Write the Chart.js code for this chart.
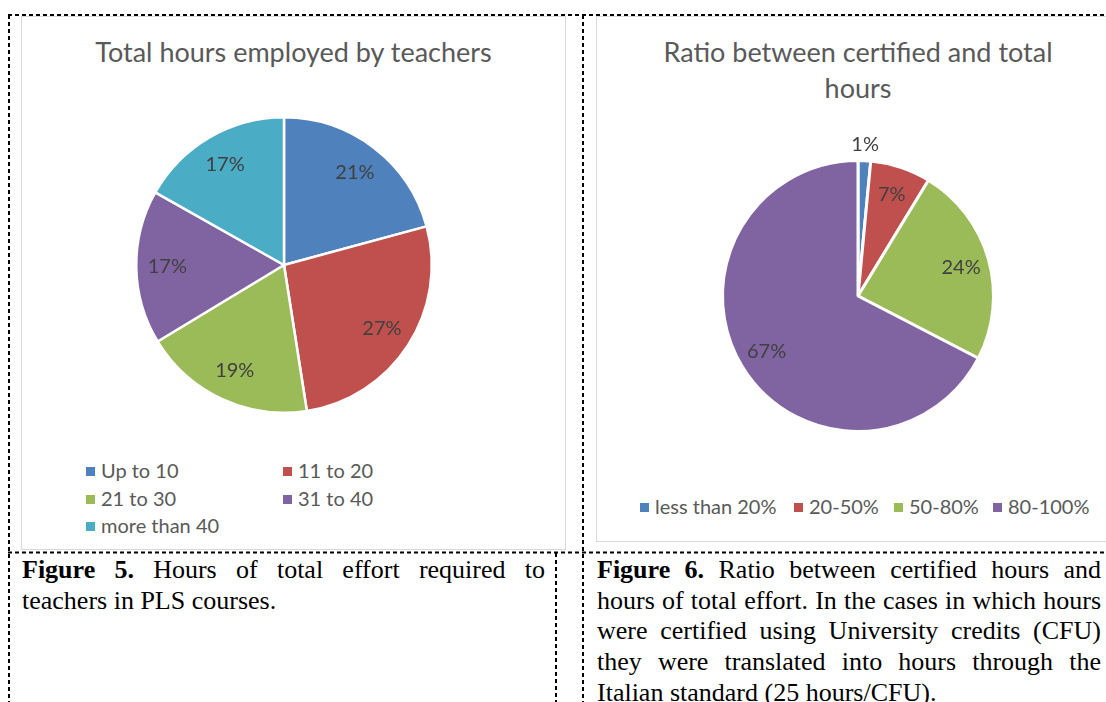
<!DOCTYPE html>
<html>
<head>
<meta charset="utf-8">
<script src="https://cdn.jsdelivr.net/npm/chart.js@4.4.1/dist/chart.umd.min.js"></script>
<style>
  body { margin: 0; width: 1106px; height: 702px; overflow: hidden; background: #fff; position: relative; font-family: Lato, "Open Sans", sans-serif; }
  .box { position: absolute; border: 1.5px solid #d9d9d9; box-sizing: border-box; background: #fff; }
  .title { position: absolute; color: #595959; font-size: 27px; text-align: center; line-height: 36px; }
  .legend { position: absolute; color: #595959; font-size: 20px; }
  .legend .item { position: absolute; white-space: nowrap; line-height: 22px; }
  .legend .sw { display: inline-block; width: 9px; height: 9px; margin-right: 6px; vertical-align: 2px; }
  .cap { position: absolute; font-family: "Liberation Serif", "Times New Roman", serif; font-size: 26px; line-height: 30.7px; color: #000; }
  .cap div { text-align: justify; text-align-last: justify; white-space: nowrap; }
  .cap div.last { text-align-last: left; }
  canvas { position: absolute; }
</style>
</head>
<body>
<div class="box" style="left:21px;top:16px;width:545px;height:534px;"></div>
<div class="box" style="left:596px;top:16px;width:530px;height:526px;"></div>

<div class="title" style="left:21px;top:34px;width:545px;">Total hours employed by teachers</div>
<div class="title" style="left:608px;top:34px;width:500px;">Ratio between certified and total<br>hours</div>

<canvas id="pie1" width="320" height="320" style="left:124px;top:105px;"></canvas>
<canvas id="pie2" width="340" height="340" style="left:688px;top:126px;"></canvas>

<div class="legend" id="leg1"></div>
<div class="legend" id="leg2"></div>

<div class="cap" id="cap1" style="left:22px;top:555px;width:523px;"></div>
<div class="cap" id="cap2" style="left:597px;top:555px;width:504px;"></div>

<svg width="1106" height="702" style="position:absolute;left:0;top:0;" xmlns="http://www.w3.org/2000/svg">
  <g stroke="#000" stroke-width="2" stroke-dasharray="4 3" fill="none">
    <line x1="8" y1="15" x2="1106" y2="15"/>
    <line x1="8" y1="552.5" x2="1106" y2="552.5"/>
    <line x1="9" y1="15" x2="9" y2="702"/>
    <line x1="583" y1="15" x2="583" y2="702"/>
    <line x1="556" y1="553" x2="556" y2="702"/>
  </g>
</svg>

<script>
// chart 1: total hours employed by teachers
var hoursLabels = ['Up to 10', '11 to 20', '21 to 30', '31 to 40', 'more than 40'];
var hoursValues = [21, 27, 19, 17, 17];
var hoursColors = ['#4F81BD', '#C0504D', '#9BBB59', '#8064A2', '#4BACC6'];

// chart 2: ratio certified / total hours
var ratioLabels = ['less than 20%', '20-50%', '50-80%', '80-100%'];
var ratioValues = [1.5, 7.2, 23.9, 67.4];
var ratioText = ['1%', '7%', '24%', '67%'];
var ratioColors = ['#4F81BD', '#C0504D', '#9BBB59', '#8064A2'];

// captions, one entry per printed line
var cap1Lines = ['<b>Figure 5.</b> Hours of total effort required to', 'teachers in PLS courses.'];
var cap2Lines = ['<b>Figure 6.</b> Ratio between certified hours and',
  'hours of total effort. In the cases in which hours',
  'were certified using University credits (CFU)',
  'they were translated into hours through the',
  'Italian standard (25 hours/CFU).'];

// draws the percentage inside each slice (outside if the slice is tiny)
var sliceLabels = {
  id: 'sliceLabels',
  afterDatasetsDraw: function(chart) {
    var ctx = chart.ctx;
    var meta = chart.getDatasetMeta(0);
    var texts = chart.options.plugins.sliceLabels.texts;
    ctx.save();
    ctx.font = '20px Lato, "Open Sans", sans-serif';
    ctx.fillStyle = '#404040';
    ctx.textAlign = 'center';
    ctx.textBaseline = 'middle';
    meta.data.forEach(function(arc, i) {
      var p = arc.getProps(['x', 'y', 'startAngle', 'endAngle', 'outerRadius'], true);
      var mid = (p.startAngle + p.endAngle) / 2;
      var r = p.outerRadius * 0.79;
      if (p.endAngle - p.startAngle < 0.15) r = p.outerRadius + 16;
      ctx.fillText(texts[i], p.x + Math.cos(mid) * r, p.y + Math.sin(mid) * r);
    });
    ctx.restore();
  }
};

function pieConfig(labels, values, colors, texts, pad, bw) {
  return {
    type: 'pie',
    data: { labels: labels, datasets: [{ data: values, backgroundColor: colors, borderColor: '#fff', borderWidth: bw }] },
    options: {
      responsive: false,
      animation: false,
      layout: { padding: pad },
      plugins: { legend: { display: false }, tooltip: { enabled: false }, sliceLabels: { texts: texts } }
    },
    plugins: [sliceLabels]
  };
}

new Chart(document.getElementById('pie1'), pieConfig(hoursLabels, hoursValues, hoursColors,
  hoursValues.map(function(v) { return v + '%'; }), 11, 2.5));
new Chart(document.getElementById('pie2'), pieConfig(ratioLabels, ratioValues, ratioColors, ratioText, 33, 3));

// legends
function addItem(parent, label, color, x, y) {
  var d = document.createElement('div');
  d.className = 'item';
  d.style.left = x + 'px';
  d.style.top = y + 'px';
  d.innerHTML = '<span class="sw" style="background:' + color + '"></span>' + label;
  parent.appendChild(d);
}
var leg1 = document.getElementById('leg1');
hoursLabels.forEach(function(l, i) {
  addItem(leg1, l, hoursColors[i], 86 + (i % 2) * 197, 459 + Math.floor(i / 2) * 27.5);
});
var leg2 = document.getElementById('leg2');
var leg2x = [640, 794, 894, 993];
ratioLabels.forEach(function(l, i) {
  addItem(leg2, l, ratioColors[i], leg2x[i], 495);
});

// captions
function fillCap(id, lines) {
  var el = document.getElementById(id);
  lines.forEach(function(t, i) {
    var d = document.createElement('div');
    if (i == lines.length - 1) d.className = 'last';
    d.innerHTML = t;
    el.appendChild(d);
  });
}
fillCap('cap1', cap1Lines);
fillCap('cap2', cap2Lines);
</script>
</body>
</html>
